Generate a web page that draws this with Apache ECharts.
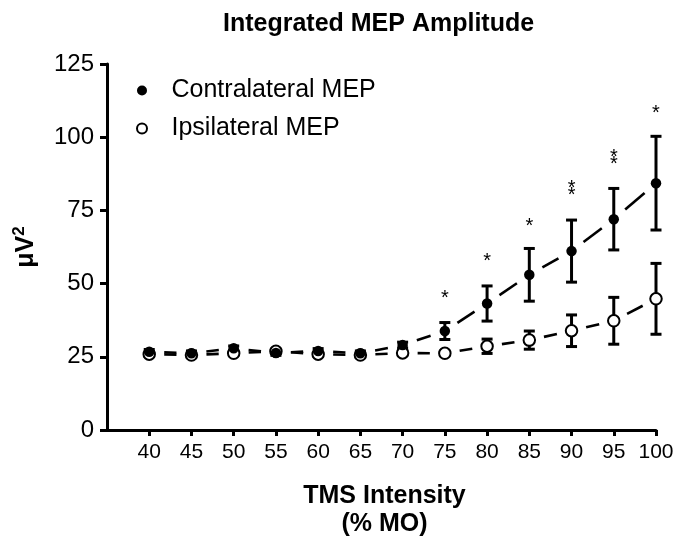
<!DOCTYPE html>
<html>
<head>
<meta charset="utf-8">
<script src="https://cdn.jsdelivr.net/npm/echarts@6/dist/echarts.min.js"></script>
<style>
html,body{margin:0;padding:0;background:#fff;}
#chart{width:680px;height:536px;}
</style>
</head>
<body>
<div id="chart"></div>
<script>
// ---- data ----
const xValues = [40, 45, 50, 55, 60, 65, 70, 75, 80, 85, 90, 95, 100];
const contraMean = [26.7, 26.2, 27.9, 26.3, 27.0, 26.2, 29.0, 33.8, 43.2, 53.0, 61.1, 72.0, 84.3];
const contraErr  = [0.8, 0.8, 0.8, 0.8, 0.8, 0.8, 1.0, 2.9, 6.0, 9.0, 10.6, 10.5, 16.0];
const ipsiMean   = [25.9, 25.6, 26.2, 26.9, 25.9, 25.6, 26.3, 26.2, 28.6, 30.7, 33.9, 37.3, 44.8];
const ipsiErr    = [0.8, 0.8, 0.8, 0.8, 0.8, 0.8, 0.8, 0.8, 2.45, 3.1, 5.4, 8.0, 12.1];
const sigMarks   = ['', '', '', '', '', '', '', '*', '*', '*', '**', '**', '*'];
const sigHeights = [null, null, null, null, null, null, null, 46.4, 58.8, 70.8, 82.6, 93.2, 109.5];
const yTicks = [0, 25, 50, 75, 100, 125];
const xTicks = [40, 45, 50, 55, 60, 65, 70, 75, 80, 85, 90, 95, 100];
const seriesNames = ['Contralateral MEP', 'Ipsilateral MEP'];

// ---- helpers building library data ----
const FONT = "'Liberation Sans', Arial, sans-serif";
function pts(mean) { return xValues.map((x, i) => [x, mean[i]]); }
function errRows(mean, err) { return xValues.map((x, i) => [x, mean[i] - err[i], mean[i] + err[i]]); }
function segRows(mean) {
  const rows = [];
  for (let i = 0; i < xValues.length - 1; i++) rows.push([xValues[i], mean[i], xValues[i + 1], mean[i + 1]]);
  return rows;
}
function segRender(params, api) {
  const a = api.coord([api.value(0), api.value(1)]);
  const b = api.coord([api.value(2), api.value(3)]);
  const dx = b[0] - a[0], dy = b[1] - a[1];
  const len = Math.sqrt(dx * dx + dy * dy);
  const gap = 15;
  if (len <= 2 * gap) return null;
  const ux = dx / len, uy = dy / len;
  return {
    type: 'line',
    shape: { x1: a[0] + ux * gap, y1: a[1] + uy * gap, x2: b[0] - ux * gap, y2: b[1] - uy * gap },
    style: { stroke: '#000', lineWidth: 2.6 }
  };
}
function errRender(params, api) {
  const x = api.value(0);
  const lo = api.coord([x, api.value(1)]);
  const hi = api.coord([x, api.value(2)]);
  const hw = 5.5;
  const st = { stroke: '#000', lineWidth: 3 };
  return {
    type: 'group',
    children: [
      { type: 'line', shape: { x1: lo[0], y1: lo[1], x2: hi[0], y2: hi[1] }, style: st },
      { type: 'line', shape: { x1: hi[0] - hw, y1: hi[1], x2: hi[0] + hw, y2: hi[1] }, style: st },
      { type: 'line', shape: { x1: lo[0] - hw, y1: lo[1], x2: lo[0] + hw, y2: lo[1] }, style: st }
    ]
  };
}
const sigData = [];
xValues.forEach((x, i) => { if (sigMarks[i]) sigData.push([x, sigHeights[i], sigMarks[i]]); });
function sigRender(params, api) {
  const p = api.coord([api.value(0), api.value(1)]);
  const txt = sigData[params.dataIndex][2].split('').join('\n');
  return {
    type: 'text',
    style: {
      text: txt, x: p[0], y: p[1] + 4, fill: '#000',
      font: '20px ' + FONT, align: 'center', verticalAlign: 'middle', lineHeight: 7
    }
  };
}

const chart = echarts.init(document.getElementById('chart'), null, { renderer: 'canvas' });
chart.setOption({
  animation: false,
  backgroundColor: '#ffffff',
  textStyle: { fontFamily: FONT, color: '#000' },
  title: {
    text: 'Integrated MEP Amplitude',
    left: 223, top: 12, padding: 0,
    textStyle: { fontFamily: FONT, fontSize: 25, fontWeight: 'bold', color: '#000' }
  },
  legend: {
    data: seriesNames,
    orient: 'vertical',
    left: 136, top: 78, padding: 0,
    itemWidth: 49, itemHeight: 10, itemGap: 13,
    textStyle: { fontFamily: FONT, fontSize: 25, color: '#000' },
    selectedMode: false
  },
  grid: { left: 107, right: 24, top: 64, bottom: 106, containLabel: false, outerBoundsMode: 'none' },
  xAxis: {
    type: 'value', min: 35, max: 100, interval: 5,
    name: 'TMS Intensity\n(% MO)', nameLocation: 'middle', nameGap: 52,
    nameTextStyle: { fontFamily: FONT, fontSize: 25, fontWeight: 'bold', color: '#000', lineHeight: 28, padding: [0, 0, 0, 6] },
    axisLine: { show: true, onZero: false, lineStyle: { color: '#000', width: 3 } },
    axisTick: { show: true, length: 6, lineStyle: { color: '#000', width: 3 }, customValues: xTicks },
    axisLabel: { fontFamily: FONT, fontSize: 21, color: '#000', margin: 12, customValues: xTicks },
    splitLine: { show: false }
  },
  yAxis: {
    type: 'value', min: 0, max: 125, interval: 25,
    name: '{a|μV}{b|2}', nameLocation: 'middle', nameGap: 66,
    nameTextStyle: {
      fontFamily: FONT, fontSize: 24, fontWeight: 'bold', color: '#000',
      rich: {
        a: { fontFamily: FONT, fontSize: 25, fontWeight: 'bold', color: '#000', lineHeight: 30 },
        b: { fontFamily: FONT, fontSize: 17, fontWeight: 'bold', color: '#000', verticalAlign: 'top', lineHeight: 17 }
      }
    },
    axisLine: { show: true, lineStyle: { color: '#000', width: 3 } },
    axisTick: { show: true, length: 7, lineStyle: { color: '#000', width: 3 }, customValues: yTicks },
    axisLabel: { fontFamily: FONT, fontSize: 24, color: '#000', margin: 13, customValues: yTicks },
    splitLine: { show: false }
  },
  series: [
    { type: 'custom', name: 'ipsiLine', renderItem: segRender, data: segRows(ipsiMean), z: 2, silent: true },
    { type: 'custom', name: 'contraLine', renderItem: segRender, data: segRows(contraMean), z: 2, silent: true },
    { type: 'custom', name: 'ipsiErr', renderItem: errRender, data: errRows(ipsiMean, ipsiErr), z: 3, silent: true },
    { type: 'custom', name: 'contraErr', renderItem: errRender, data: errRows(contraMean, contraErr), z: 3, silent: true },
    {
      type: 'scatter', name: seriesNames[1], data: pts(ipsiMean), symbol: 'circle', symbolSize: 11.5, z: 4,
      itemStyle: { color: '#fff', borderColor: '#000', borderWidth: 2, opacity: 1 }
    },
    {
      type: 'scatter', name: seriesNames[0], data: pts(contraMean), symbol: 'circle', symbolSize: 10.5, z: 5,
      itemStyle: { color: '#000', borderColor: '#000', borderWidth: 0, opacity: 1 }
    },
    { type: 'custom', name: 'sig', renderItem: sigRender, data: sigData, z: 6, silent: true }
  ]
});
</script>
</body>
</html>
